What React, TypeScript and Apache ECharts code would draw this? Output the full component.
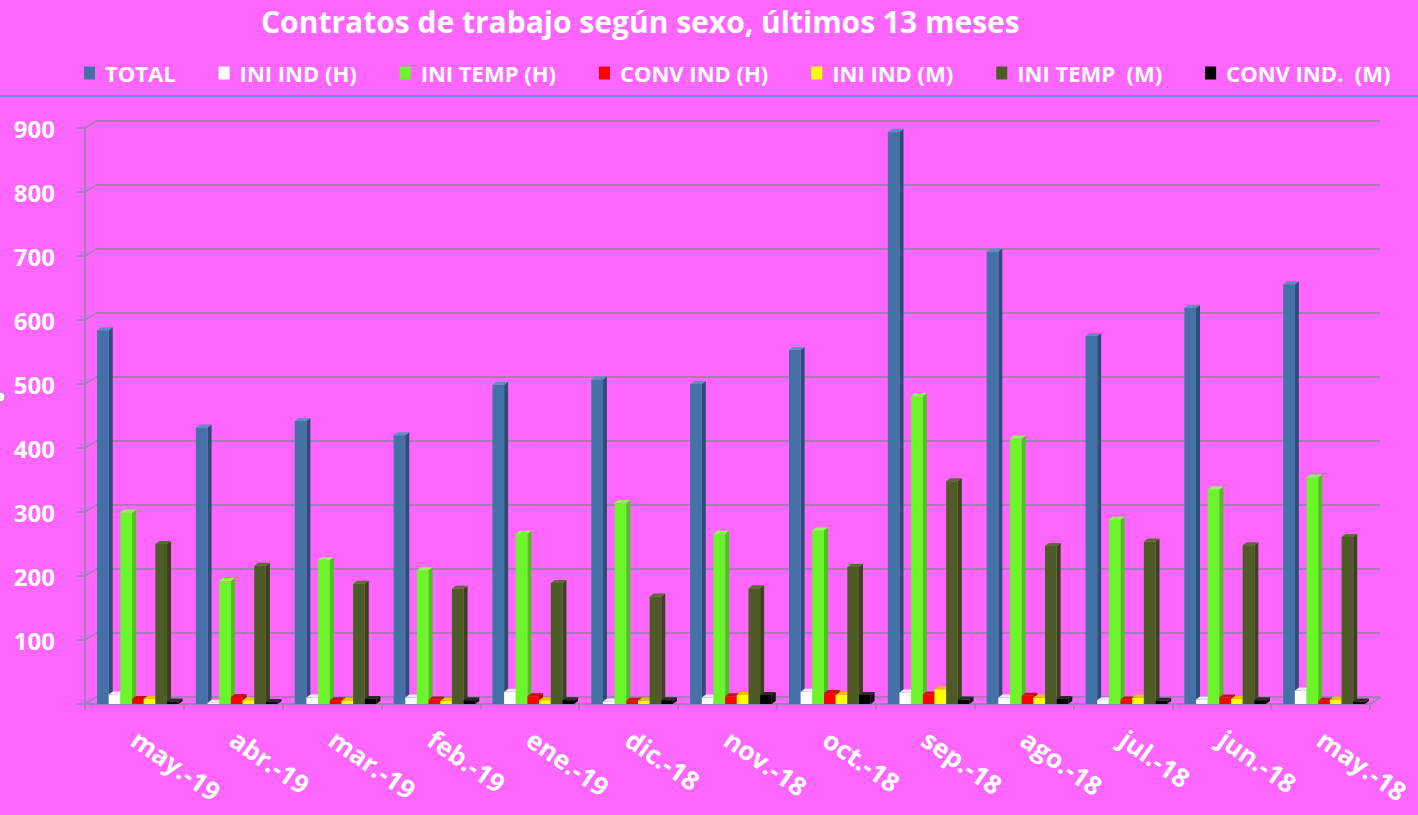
import React, { useEffect, useRef } from "react";
import * as echarts from "echarts";

const categories = ["may.-19", "abr.-19", "mar.-19", "feb.-19", "ene.-19", "dic.-18", "nov.-18", "oct.-18", "sep.-18", "ago.-18", "jul.-18", "jun.-18", "may.-18"];
const total = [584, 432, 442, 420, 499, 507, 500, 553, 894, 707, 575, 619, 656];
const iniIndH = [15, 2, 10, 10, 19, 4, 10, 19, 18, 10, 6, 7, 21];
const iniTempH = [299, 192, 225, 209, 266, 314, 266, 271, 481, 415, 288, 335, 354];
const convIndH = [8, 11, 6, 7, 12, 5, 12, 17, 15, 13, 7, 10, 5];
const iniIndM = [8, 6, 5, 5, 6, 5, 14, 14, 23, 10, 10, 8, 7];
const iniTempM = [250, 216, 188, 180, 189, 168, 181, 214, 348, 247, 254, 248, 261];
const convIndM = [4, 3, 8, 6, 6, 6, 14, 14, 7, 8, 5, 6, 4];
const yTicks = [0, 100, 200, 300, 400, 500, 600, 700, 800, 900];

const seriesDefs = [
  { name: "TOTAL", values: total, front: "#4472a6", side: "#2c4d78", top: "#5f8cc2" },
  { name: "INI IND (H)", values: iniIndH, front: "#ffffff", side: "#cfcfcf", top: "#ececec" },
  { name: "INI TEMP (H)", values: iniTempH, front: "#6cf52b", side: "#4cc41c", top: "#8cff55" },
  { name: "CONV IND (H)", values: convIndH, front: "#ff0000", side: "#b00000", top: "#c81010" },
  { name: "INI IND (M)", values: iniIndM, front: "#ffff00", side: "#c8b400", top: "#e8c400" },
  { name: "INI TEMP  (M)", values: iniTempM, front: "#4f5b27", side: "#3a431b", top: "#5e6b30" },
  { name: "CONV IND.  (M)", values: convIndM, front: "#000000", side: "#111111", top: "#2a2a2a" },
];

const FONT = "Open Sans";
const GRID_COLOR = "#a77db8";

export default function App() {
  const ref = useRef<HTMLDivElement>(null);
  useEffect(() => {
    document.body.style.margin = "0";
    const chart = echarts.init(ref.current!, null, { renderer: "svg" });
    const barSeries = seriesDefs.map((d, i) => ({
      name: d.name,
      type: "custom",
      xAxisIndex: 0,
      yAxisIndex: 0,
      itemStyle: { color: d.front },
      encode: { x: 0, y: 1 },
      data: d.values.map((v, j) => [j, v]),
      renderItem: (params: any, api: any) => {
        const cat = api.value(0);
        const v = api.value(1);
        const base = api.coord([cat, 0]);
        const topP = api.coord([cat, v]);
        const band = api.size([1, 0])[0];
        const w = band * 0.118;
        const x = base[0] - band / 2 + band * 0.122 + i * w;
        const dx = 4;
        const dy = -3;
        const yT = topP[1];
        const yB = base[1];
        return {
          type: "group",
          children: [
            { type: "polygon", shape: { points: [[x + w, yT], [x + w + dx, yT + dy], [x + w + dx, yB + dy], [x + w, yB]] }, style: { fill: d.side } },
            { type: "rect", shape: { x, y: yT, width: w, height: yB - yT }, style: { fill: d.front } },
            { type: "polygon", shape: { points: [[x, yT], [x + dx, yT + dy], [x + w + dx, yT + dy], [x + w, yT]] }, style: { fill: d.top } },
          ],
        };
      },
    }));

    const connectorSeries = {
      name: "conn",
      type: "custom",
      xAxisIndex: 0,
      yAxisIndex: 0,
      silent: true,
      encode: { x: 0, y: 1 },
      data: yTicks.map((v) => [0, v]),
      renderItem: (params: any, api: any) => {
        const v = api.value(1);
        const p = api.coord([0, v]);
        const band = api.size([1, 0])[0];
        const x0 = p[0] - band / 2;
        const children: any[] = [
          { type: "line", shape: { x1: x0, y1: p[1], x2: x0 + 11, y2: p[1] - 7 }, style: { stroke: GRID_COLOR, lineWidth: 2 } },
        ];
        if (v === 0) {
          const pr = api.coord([categories.length - 1, 0]);
          const xr = pr[0] + band / 2;
          children.push({ type: "line", shape: { x1: xr, y1: pr[1], x2: xr + 11, y2: pr[1] - 7 }, style: { stroke: GRID_COLOR, lineWidth: 2 } });
        }
        return { type: "group", children };
      },
    };

    chart.setOption({
      animation: false,
      backgroundColor: "#ff66ff",
      textStyle: { fontFamily: FONT },
      title: {
        text: "Contratos de trabajo según sexo, últimos 13 meses",
        left: 256,
        top: 1,
        textStyle: { color: "#ffffff", fontSize: 30, fontWeight: "bold", fontFamily: FONT },
      },
      legend: {
        data: seriesDefs.map((d) => ({ name: d.name, icon: "rect" })),
        left: 79,
        top: 57,
        itemWidth: 11,
        itemHeight: 13,
        itemGap: 43,
        textStyle: { color: "#ffffff", fontSize: 22, fontWeight: "bold", fontFamily: FONT, padding: [0, 0, 0, 5] },
      },
      graphic: [
        { type: "line", shape: { x1: 0, y1: 96, x2: 1418, y2: 96 }, style: { stroke: "#6f8fe8", lineWidth: 2 } },
        { type: "circle", shape: { cx: 0, cy: 397, r: 5 }, style: { fill: "#ffffff", stroke: "#888888", lineWidth: 1 } },
      ],
      grid: [
        { left: 85, right: 48, top: 128, bottom: 111 },
        { left: 96, right: 38, top: 121, bottom: 118 },
      ],
      xAxis: [
        {
          gridIndex: 0,
          type: "category",
          data: categories,
          boundaryGap: true,
          axisLine: { show: true, lineStyle: { color: GRID_COLOR, width: 2 } },
          axisTick: { show: true, length: 6, lineStyle: { color: GRID_COLOR, width: 2 } },
          axisLabel: { interval: 0, rotate: -35, margin: 32, color: "#ffffff", fontSize: 26, fontWeight: "bold", fontFamily: FONT },
          splitLine: { show: false },
        },
        {
          gridIndex: 1,
          type: "category",
          data: categories,
          axisLine: { show: false },
          axisTick: { show: false },
          axisLabel: { show: false },
          splitLine: { show: false },
        },
      ],
      yAxis: [
        {
          gridIndex: 0,
          type: "value",
          min: 0,
          max: 900,
          interval: 100,
          axisLine: { show: true, lineStyle: { color: GRID_COLOR, width: 2 } },
          axisTick: { show: true, length: 8, lineStyle: { color: GRID_COLOR, width: 2 } },
          axisLabel: {
            margin: 30,
            color: "#ffffff",
            fontSize: 24,
            fontWeight: "bold",
            fontFamily: FONT,
            formatter: (v: number) => (v === 0 ? "" : String(v)),
          },
          splitLine: { show: false },
        },
        {
          gridIndex: 1,
          type: "value",
          min: 0,
          max: 900,
          interval: 100,
          axisLine: { show: false },
          axisTick: { show: false },
          axisLabel: { show: false },
          splitLine: { show: true, lineStyle: { color: GRID_COLOR, width: 2 } },
        },
      ],
      series: [connectorSeries, ...barSeries],
    });
    return () => chart.dispose();
  }, []);
  return <div ref={ref} style={{ width: 1418, height: 815 }} />;
}
